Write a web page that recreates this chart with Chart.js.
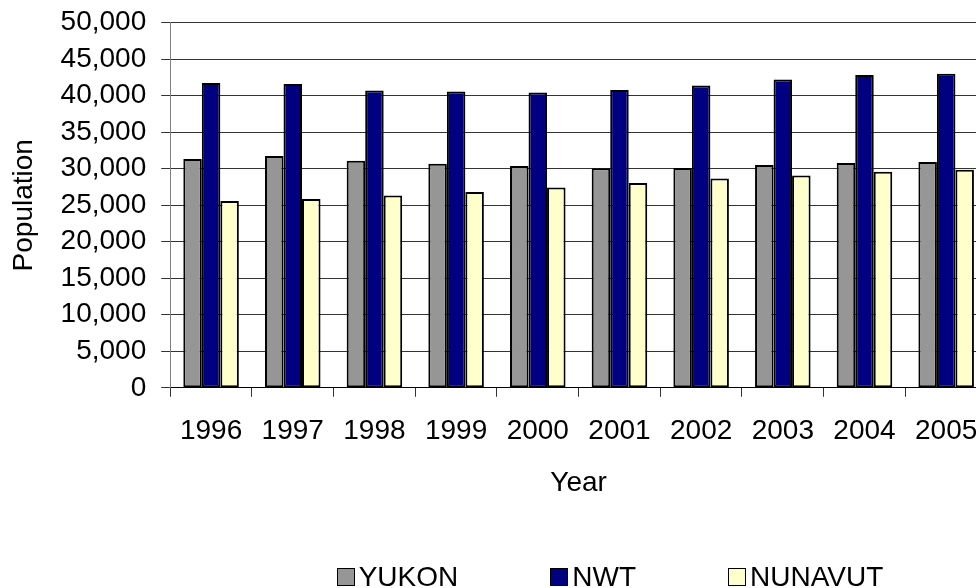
<!DOCTYPE html>
<html lang="en">
<head>
  <meta charset="UTF-8" />
  <title>Population 1996-2005</title>
  <script src="https://cdn.jsdelivr.net/npm/chart.js"></script>
  <style>
    body {
      margin: 0;
      background: #fff;
      overflow: hidden;
      font-family: 'Liberation Sans', Arial, sans-serif;
    }
    .wrap {
      position: relative;
      width: 1220px;
      height: 588px;
    }
    .legend {
      position: absolute;
      left: 0;
      top: 563px;
      width: 1220px;
      display: flex;
      justify-content: center;
      gap: 92px;
      font-size: 28px;
      line-height: 27px;
      color: #000;
    }
    .legend span.item {
      display: flex;
      align-items: center;
    }
    .legend span.box {
      width: 16px;
      height: 16px;
      border: 1.5px solid #000;
      margin-right: 4px;
    }
  </style>
</head>
<body>
  <div class="wrap">
    <canvas id="popChart" width="1220" height="588"></canvas>
    <div class="legend" id="legend"></div>
  </div>

  <script>
    // Years on the x axis
    const years = ["1996","1997","1998","1999","2000","2001","2002","2003","2004","2005"];

    // Population per territory
    const yukon   = [31330, 31740, 31100, 30680, 30370, 30050, 30090, 30500, 30780, 30920];
    const nwt     = [41740, 41600, 40730, 40590, 40450, 40780, 41410, 42230, 42830, 43010];
    const nunavut = [25580, 25850, 26340, 26800, 27440, 28040, 28670, 29080, 29590, 29860];

    const seriesNames  = ["YUKON", "NWT", "NUNAVUT"];
    const seriesColors = ["#969696", "#000080", "#FFFFCC"];
    const seriesData   = [yukon, nwt, nunavut];

    const font = { family: "'Liberation Sans', Arial, sans-serif", size: 28 };

    const ctx = document.getElementById('popChart').getContext('2d');
    new Chart(ctx, {
      type: 'bar',
      data: {
        labels: years,
        datasets: seriesNames.map((name, i) => ({
          label: name,
          data: seriesData[i],
          backgroundColor: seriesColors[i],
          borderColor: '#000',
          borderWidth: 2,
          borderSkipped: false,
          categoryPercentage: 0.68,
          barPercentage: 1.0
        }))
      },
      options: {
        responsive: false,
        animation: false,
        layout: { padding: { top: 6, left: 7, right: 233, bottom: 88 } },
        plugins: {
          legend: { display: false },
          tooltip: { enabled: false }
        },
        scales: {
          x: {
            grid: { drawOnChartArea: false, drawTicks: true, tickLength: 9, color: '#333', offset: true },
            border: { color: '#000', width: 1 },
            ticks: { color: '#000', font: font, padding: 18, maxRotation: 0, autoSkip: false },
            title: { display: true, text: 'Year', color: '#000', font: font, padding: { top: 0, bottom: 0 } }
          },
          y: {
            min: 0,
            max: 50000,
            grid: { color: '#333', tickLength: 9 },
            border: { color: '#808080', width: 1 },
            ticks: {
              stepSize: 5000,
              autoSkip: false,
              color: '#000',
              font: { family: font.family, size: 28, lineHeight: 0.55 },
              padding: 15,
              callback: v => v.toLocaleString('en-US')
            },
            title: { display: true, text: 'Population', color: '#000', font: font, padding: { top: 0, bottom: 5 } }
          }
        }
      }
    });

    // Legend built from the same series arrays
    const legend = document.getElementById('legend');
    seriesNames.forEach((name, i) => {
      const item = document.createElement('span');
      item.className = 'item';
      const box = document.createElement('span');
      box.className = 'box';
      box.style.background = seriesColors[i];
      item.appendChild(box);
      item.appendChild(document.createTextNode(name));
      legend.appendChild(item);
    });
  </script>
</body>
</html>
